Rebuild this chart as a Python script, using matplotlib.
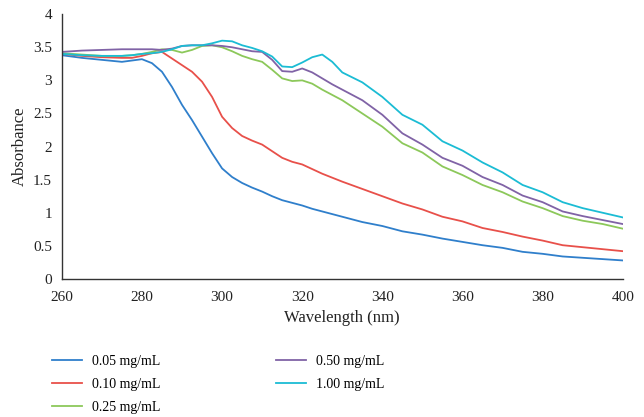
import numpy as np
import matplotlib
matplotlib.use('Agg')
import matplotlib.pyplot as plt

plt.rcParams['font.family'] = ['Liberation Serif', 'DejaVu Serif']

# ── Data ──
wl = [260, 265, 270, 275,
      277.5, 280, 282.5, 285, 287.5, 290, 292.5, 295, 297.5, 300, 302.5, 305,
      307.5, 310, 312.5, 315, 317.5, 320, 322.5, 325, 327.5, 330,
      335, 340, 345, 350, 355, 360, 365, 370, 375, 380, 385, 390, 395, 400]

a_005 = [3.38, 3.34, 3.31, 3.28,
         3.30, 3.32, 3.26, 3.13, 2.90, 2.63, 2.40, 2.15, 1.90, 1.67, 1.54, 1.45,
         1.38, 1.32, 1.25, 1.19, 1.15, 1.11, 1.06, 1.02, 0.98, 0.94,
         0.86, 0.80, 0.72, 0.67, 0.61, 0.56, 0.51, 0.47, 0.41, 0.38, 0.34, 0.32, 0.30, 0.28]
a_010 = [3.40, 3.37, 3.35, 3.34,
         3.34, 3.37, 3.41, 3.43, 3.33, 3.23, 3.13, 2.98, 2.75, 2.45, 2.28, 2.16,
         2.09, 2.03, 1.93, 1.83, 1.77, 1.73, 1.66, 1.59, 1.53, 1.47,
         1.36, 1.25, 1.14, 1.05, 0.94, 0.87, 0.77, 0.71, 0.64, 0.58, 0.51, 0.48, 0.45, 0.42]
a_025 = [3.41, 3.39, 3.37, 3.37,
         3.38, 3.40, 3.43, 3.47, 3.46, 3.42, 3.46, 3.52, 3.53, 3.50, 3.44, 3.37,
         3.32, 3.28, 3.16, 3.03, 2.99, 3.00, 2.95, 2.86, 2.78, 2.70,
         2.50, 2.30, 2.05, 1.91, 1.70, 1.57, 1.42, 1.31, 1.17, 1.07, 0.95, 0.88, 0.83, 0.76]
a_050 = [3.43, 3.45, 3.46, 3.47,
         3.47, 3.47, 3.47, 3.46, 3.48, 3.52, 3.53, 3.53, 3.53, 3.52, 3.50, 3.47,
         3.44, 3.43, 3.31, 3.14, 3.13, 3.18, 3.12, 3.03, 2.94, 2.86,
         2.70, 2.48, 2.20, 2.03, 1.83, 1.71, 1.54, 1.42, 1.26, 1.16, 1.02, 0.95, 0.89, 0.83]
a_100 = [3.40, 3.38, 3.37, 3.37,
         3.38, 3.40, 3.41, 3.43, 3.47, 3.52, 3.53, 3.53, 3.56, 3.60, 3.59, 3.53,
         3.49, 3.44, 3.36, 3.21, 3.20, 3.27, 3.35, 3.39, 3.28, 3.12,
         2.97, 2.75, 2.48, 2.33, 2.08, 1.94, 1.76, 1.61, 1.42, 1.31, 1.16, 1.07, 1.00, 0.93]

labels = ['0.05 mg/mL', '0.10 mg/mL', '0.25 mg/mL', '0.50 mg/mL', '1.00 mg/mL']
colors = ['#2F7FCB', '#E8504A', '#8CC85A', '#8063A6', '#1BBCD4']

fig = plt.figure(figsize=(6.44, 4.17), dpi=100)
ax = fig.add_axes([0.096, 0.331, 0.871, 0.635])

for y, lab, c in zip([a_005, a_010, a_025, a_050, a_100], labels, colors):
    ax.plot(wl, y, color=c, lw=1.3, label=lab, solid_joinstyle='round')

ax.set_xlim(260, 400)
ax.set_ylim(0, 4)
ax.set_xticks(range(260, 401, 20))
ax.set_yticks([0, 0.5, 1, 1.5, 2, 2.5, 3, 3.5, 4])
ax.set_yticklabels(['0', '0.5', '1', '1.5', '2', '2.5', '3', '3.5', '4'])
ax.tick_params(length=0, labelsize=11, colors='#222222')
ax.tick_params(axis='x', pad=9)
ax.tick_params(axis='y', pad=7)
for s in ['top', 'right']:
    ax.spines[s].set_visible(False)
for s in ['left', 'bottom']:
    ax.spines[s].set_color('#333333')
    ax.spines[s].set_linewidth(1.0)
ax.set_xlabel('Wavelength (nm)', fontsize=12, color='#222222', labelpad=4)
ax.set_ylabel('Absorbance', fontsize=12, color='#222222', labelpad=4)

handles, labs = ax.get_legend_handles_labels()
fig.legend(handles, labs,
           loc='upper left', bbox_to_anchor=(0.062, 0.179), ncol=2, frameon=False,
           fontsize=10, handlelength=2.1, columnspacing=8.35, labelspacing=0.72,
           handletextpad=0.75)

plt.savefig('out.png', dpi=100)
